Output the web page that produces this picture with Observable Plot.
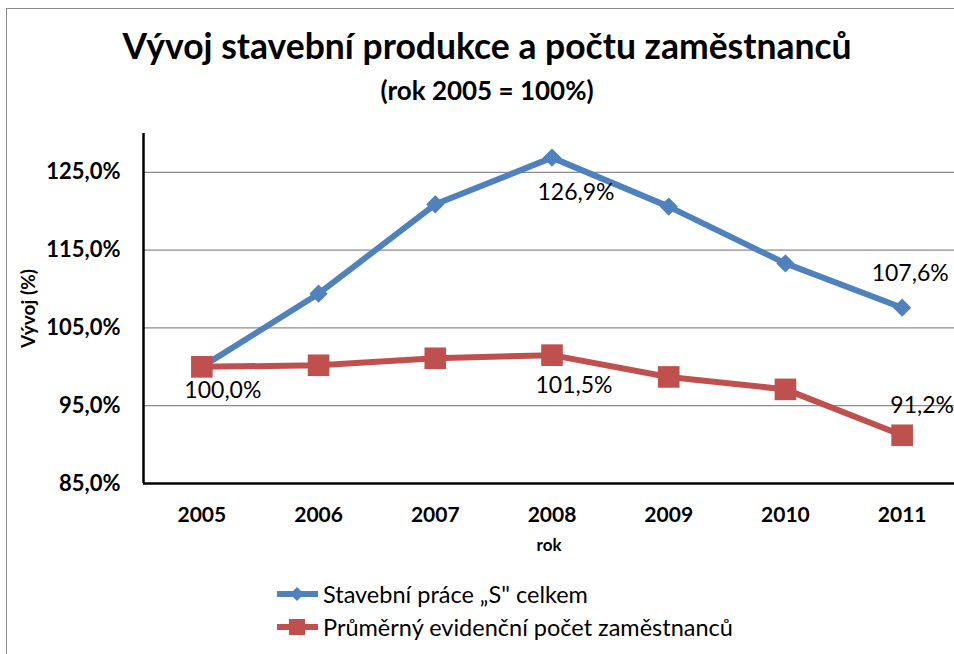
<!DOCTYPE html>
<html><head><meta charset="utf-8">
<script src="https://cdn.jsdelivr.net/npm/d3@7"></script>
<script src="https://cdn.jsdelivr.net/npm/@observablehq/plot@0.6"></script>
<style>
body{margin:0;background:#fff;font-family:Lato,"Open Sans",sans-serif;color:#000;}
#frame{position:relative;width:954px;height:654px;overflow:hidden;background:#fff;}
#border{position:absolute;left:6px;top:8px;width:1000px;height:700px;border:1px solid #8a8a8a;box-sizing:border-box;}
#title{position:absolute;left:0;width:974px;top:24px;text-align:center;font-weight:bold;font-size:35.5px;line-height:44px;}
#subtitle{position:absolute;left:0;width:974px;top:74px;text-align:center;font-weight:bold;font-size:26px;line-height:32px;}
#chart{position:absolute;left:0;top:120px;}
#legend{position:absolute;left:276px;top:577px;font-size:23.5px;}
.li{display:flex;align-items:center;height:33px;}
.li svg{margin-right:4px;}
</style></head>
<body>
<div id="frame">
<div id="border"></div>
<div id="title">Vývoj stavební produkce a počtu zaměstnanců</div>
<div id="subtitle">(rok 2005 = 100%)</div>
<div id="chart"></div>
<div id="legend"></div>
</div>
<script>
const years = [2005, 2006, 2007, 2008, 2009, 2010, 2011];
const stavebniPrace = [100.0, 109.4, 120.9, 126.9, 120.6, 113.3, 107.6];
const zamestnanci = [100.0, 100.2, 101.1, 101.5, 98.7, 97.1, 91.2];
const seriesNames = ["Stavební práce „S\" celkem", "Průměrný evidenční počet zaměstnanců"];
const seriesColors = ["#4F81BD", "#C0504D"];
const yTicks = [85, 95, 105, 115, 125];
const xLabel = "rok";
const yLabel = "Vývoj (%)";

const fmt = v => v.toFixed(1).replace(".", ",") + "%";
const blue = years.map((y, i) => ({year: y, value: stavebniPrace[i]}));
const red = years.map((y, i) => ({year: y, value: zamestnanci[i]}));
const pick = (arr, yr) => arr.filter(d => d.year === yr);

const labelFont = {fontSize: 23, fill: "#000", text: d => fmt(d.value), fontFamily: "Lato, sans-serif"};

const chart = Plot.plot({
  width: 954,
  height: 445,
  marginLeft: 143,
  marginRight: 0,
  marginTop: 13,
  marginBottom: 82,
  style: {fontFamily: "Lato, sans-serif", background: "transparent", overflow: "visible"},
  x: {type: "linear", domain: [2004.5, 2011.5], range: [143, 960]},
  y: {domain: [85, 130]},
  marks: [
    Plot.gridY(yTicks.slice(1), {stroke: "#8c8c8c", strokeOpacity: 1, strokeWidth: 1.2}),
    Plot.ruleY([85], {stroke: "#000", strokeWidth: 2.5}),
    Plot.ruleX([2004.5], {y1: 85, y2: 130, stroke: "#000", strokeWidth: 2.5}),
    Plot.axisY(yTicks, {tickSize: 0, tickPadding: 23, tickFormat: fmt, fontSize: 22, fontWeight: "bold", label: null}),
    Plot.axisX(years, {tickSize: 0, tickPadding: 24, tickFormat: d => String(d), fontSize: 21, fontWeight: "bold", label: null}),
    Plot.text([xLabel], {frameAnchor: "bottom", dy: 67, fontSize: 17, fontWeight: "bold"}),
    Plot.text([yLabel], {frameAnchor: "left", textAnchor: "middle", dx: -115, rotate: -90, fontSize: 19, fontWeight: "bold"}),
    Plot.line(blue, {x: "year", y: "value", stroke: seriesColors[0], strokeWidth: 6}),
    Plot.dot(blue, {x: "year", y: "value", symbol: "diamond2", r: 8.2, fill: seriesColors[0], stroke: "none"}),
    Plot.line(red, {x: "year", y: "value", stroke: seriesColors[1], strokeWidth: 6}),
    Plot.dot(red, {x: "year", y: "value", symbol: "square", r: 12.2, fill: seriesColors[1], stroke: "none"}),
    Plot.text(pick(red, 2005), {x: "year", y: "value", dx: 21, dy: 24, ...labelFont}),
    Plot.text(pick(blue, 2008), {x: "year", y: "value", dx: 24, dy: 35, ...labelFont}),
    Plot.text(pick(red, 2008), {x: "year", y: "value", dx: 22, dy: 30, ...labelFont}),
    Plot.text(pick(blue, 2011), {x: "year", y: "value", dx: 8, dy: -34, ...labelFont}),
    Plot.text(pick(red, 2011), {x: "year", y: "value", dx: 20, dy: -30, ...labelFont})
  ]
});
document.getElementById("chart").appendChild(chart);

const legend = document.getElementById("legend");
seriesNames.forEach((name, i) => {
  const row = document.createElement("div");
  row.className = "li";
  const marker = i === 0
    ? `<polygon points="21,4 28,11 21,18 14,11" fill="${seriesColors[i]}"/>`
    : `<rect x="13" y="3" width="16" height="16" fill="${seriesColors[i]}"/>`;
  row.innerHTML = `<svg width="43" height="22"><line x1="1" y1="11" x2="42" y2="11" stroke="${seriesColors[i]}" stroke-width="6"/>${marker}</svg><span>${name}</span>`;
  legend.appendChild(row);
});
</script>
</body></html>
